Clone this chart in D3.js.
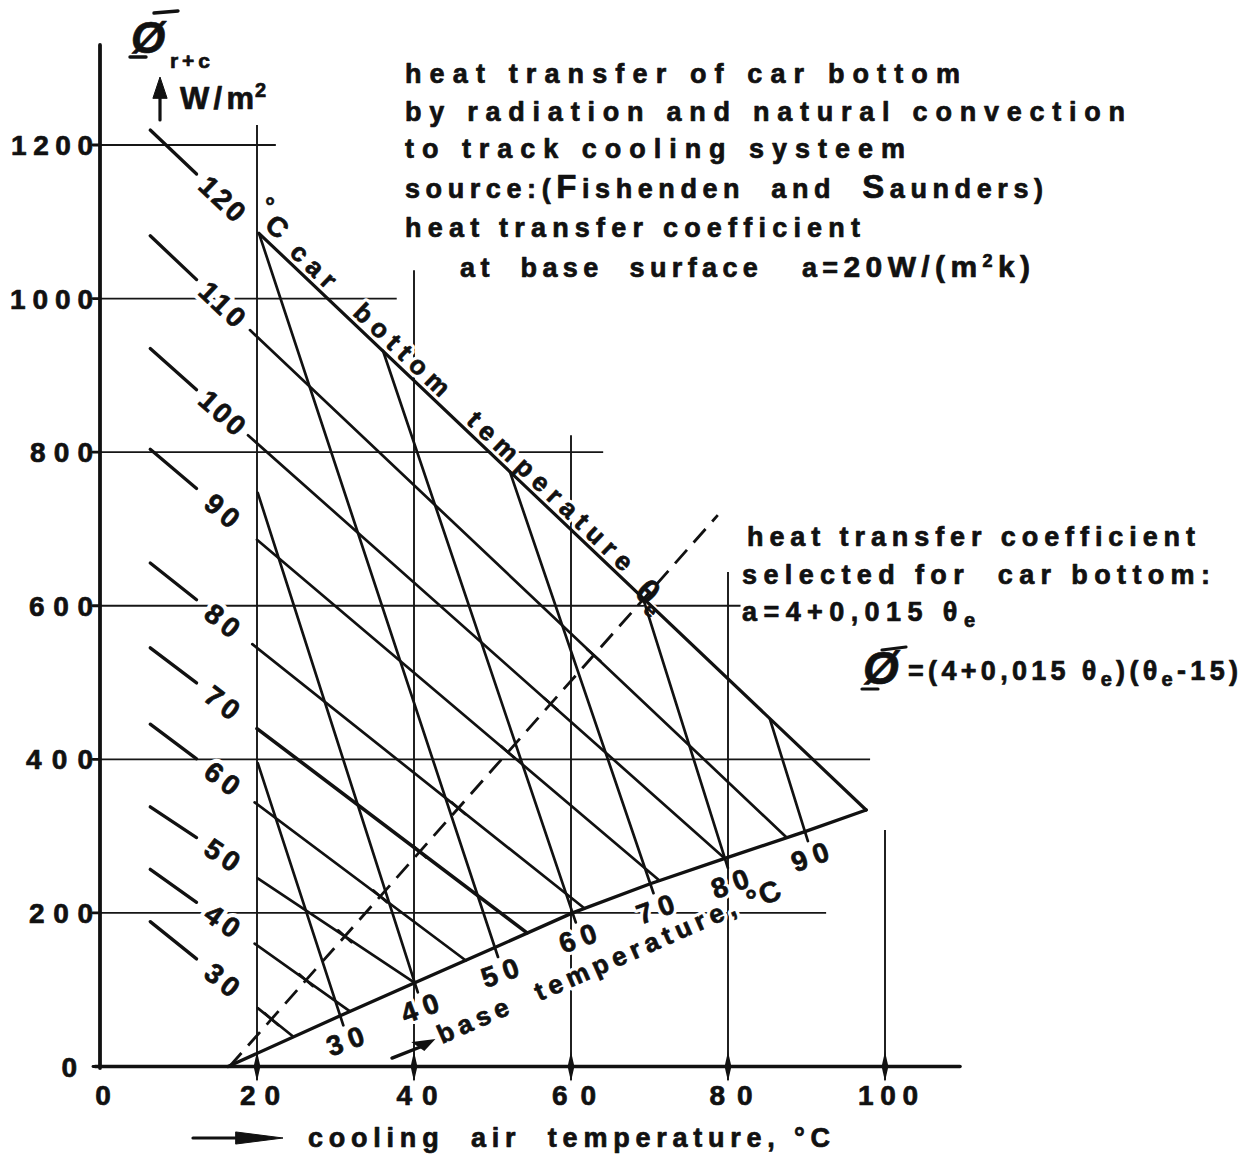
<!DOCTYPE html>
<html>
<head>
<meta charset="utf-8">
<script src="https://cdn.jsdelivr.net/npm/d3@7"></script>
<style>
  html, body { margin: 0; padding: 0; background: #fff; }
  svg { display: block; }
  text { font-family: "Liberation Sans", Arial, Helvetica, sans-serif; font-weight: 700; white-space: pre; }
</style>
</head>
<body>
<svg id="chart" width="1256" height="1163"></svg>
<script>
// ---------------- data ----------------
const xTicks = [0, 20, 40, 60, 80, 100];
const yTicks = [0, 200, 400, 600, 800, 1000, 1200];

// car-bottom temperature lines θe (°C): from the 20 °C air line down to the base-temperature curve
const carTemps     = [120, 110, 100, 90, 80, 70, 60, 50, 40, 30];
const carStartAir  = [20.25, 19.1, 18.85, 20.0, 19.4, 20.0, 19.7, 20.1, 19.7, 20.1];
const carStartFlux = [1085, 959, 822, 686, 550, 440, 344, 245, 160, 76];
const carEndAir    = [97.6, 87.5, 79.6, 71.3, 61.7, 54.4, 46.6, 40.1, 31.8, 24.6];
const carEndFlux   = [334, 298, 271, 242, 206, 174, 138, 109, 72, 39];

// base temperature lines θb (°C)
const baseTemps     = [30, 40, 50, 60, 70, 80, 90];
const baseStartAir  = [20.1, 20.1, 20.25, 36.05, 52.2, 69.2, 85.35];
const baseStartFlux = [395, 747, 1085, 932, 775, 609, 452];
const baseEndAir    = [30.6, 40.1, 50.3, 60.2, 70.1, 79.6, 89.8];
const baseEndFlux   = [66, 109, 155, 200, 238, 271, 306];

// base-temperature curve
const baseCurveAir  = [16.3, 30.6, 40.1, 50.3, 60.2, 70.1, 79.6, 89.8, 97.6];
const baseCurveFlux = [0, 66, 109, 155, 200, 238, 271, 306, 334];

// selected car-bottom heat-transfer coefficient (dashed)
const coefAir  = [16.5, 78.7];
const coefFlux = [0, 718];

// ---------------- scales ----------------
const svg = d3.select("#chart");
const x = d3.scaleLinear().domain([0, 100]).range([100, 885]);
const y = d3.scaleLinear().domain([0, 1200]).range([1066.5, 145]);
const line = d3.line().x(d => x(d[0])).y(d => y(d[1]));

const ink = "#111";
const gGrid  = svg.append("g").attr("fill", "none").attr("stroke", "#161616").attr("stroke-width", 1.9);
const gHalo  = svg.append("g");
const gLines = svg.append("g").attr("fill", "none").attr("stroke", ink).attr("stroke-linecap", "round");
const gText  = svg.append("g");

function addText(parts, o) {
  const layers = o.halo === 0 ? [gText] : [gHalo, gText];
  layers.forEach(layer => {
    const halo = layer === gHalo;
    const t = layer.append("text")
      .attr("x", o.x).attr("y", o.y)
      .attr("font-size", o.size || 27)
      .attr("text-anchor", o.anchor || "start");
    if (o.rotate) t.attr("transform", `rotate(${o.rotate},${o.x},${o.y})`);
    if (o.len) t.attr("textLength", o.len).attr("lengthAdjust", "spacing");
    if (o.italic) t.attr("font-style", "italic");
    if (o.baseline) t.attr("dominant-baseline", o.baseline);
    if (halo) t.attr("fill", "#fff").attr("stroke", "#fff").attr("stroke-width", o.halo || 7).attr("stroke-linejoin", "round");
    else t.attr("fill", ink).attr("stroke", ink).attr("stroke-width", 0.7).attr("stroke-linejoin", "round");
    (typeof parts === "string" ? [{ t: parts }] : parts).forEach(p => {
      const s = t.append("tspan").text(p.t);
      if (p.size) s.attr("font-size", p.size);
      if (p.dy) s.attr("dy", p.dy);
    });
  });
}

// ---------------- grid ----------------
const hGrid = [
  { v: 1200, from: 0, to: 22.4 },
  { v: 1000, from: 0, to: 37.8 },
  { v: 800,  from: 0, to: 64.1 },
  { v: 600,  from: 0, to: 81.6 },
  { v: 400,  from: 0, to: 98.1 },
  { v: 200,  from: 0, to: 92.5 }
];
const vGrid = [
  { v: 20,  from: -18, to: 1226 },
  { v: 40,  from: -18, to: 1037 },
  { v: 60,  from: -18, to: 822 },
  { v: 80,  from: -18, to: 644 },
  { v: 100, from: -18, to: 308 }
];
hGrid.forEach(g => gGrid.append("path").attr("d", line([[g.from, g.v], [g.to, g.v]])));
vGrid.forEach(g => gGrid.append("path").attr("d", line([[g.v, g.from], [g.v, g.to]])));

// axes
gLines.append("line").attr("x1", x(0)).attr("x2", x(0)).attr("y1", 45).attr("y2", y(0) + 1.5).attr("stroke-width", 3.8);
gLines.append("line").attr("x1", x(0) - 5).attr("x2", 960).attr("y1", y(0)).attr("y2", y(0)).attr("stroke-width", 3.6);
yTicks.forEach(v => gLines.append("line").attr("x1", x(0) - 7).attr("x2", x(0)).attr("y1", y(v)).attr("y2", y(v)).attr("stroke-width", 2.8));
xTicks.filter(v => v > 0).forEach(v => {
  const cx = x(v), cy = y(0);
  gLines.append("path").attr("d", `M${cx},${cy - 15}L${cx + 3.4},${cy}L${cx},${cy + 15}L${cx - 3.4},${cy}Z`)
    .attr("fill", ink).attr("stroke", "none");
});

// tick labels
const xLabLen = { 0: 18, 20: 40, 40: 41, 60: 44, 80: 43, 100: 60 };
xTicks.forEach(v => addText(String(v), { x: x(v) + 3, y: 1105, anchor: "middle", size: 28, len: xLabLen[v], halo: 0 }));
const yLabLen = { 0: 19, 200: 64, 400: 67, 600: 64, 800: 63, 1000: 83, 1200: 82 };
yTicks.forEach(v => addText(String(v), { x: v === 0 ? 77 : 93, y: y(v) + 10, anchor: "end", size: 28, len: yLabLen[v], halo: 0 }));

// ---------------- curves ----------------
// base-temperature curve
gLines.append("path").attr("d", line(baseCurveAir.map((a, i) => [a, baseCurveFlux[i]]))).attr("stroke-width", 3.4).attr("stroke-linejoin", "round");

// car-bottom temperature lines + their short index dashes and labels on the left
carTemps.forEach((t, i) => {
  const a0 = carStartAir[i], f0 = carStartFlux[i], a1 = carEndAir[i], f1 = carEndFlux[i];
  const fAt = a => f0 + (f1 - f0) * (a - a0) / (a1 - a0);
  gLines.append("path").attr("d", line([[a0, f0], [a1, f1]]))
    .attr("stroke-width", t === 120 ? 3.2 : (t === 70 ? 3.6 : 2.7));
  gLines.append("path").attr("d", line([[6.4, fAt(6.4)], [12.3, fAt(12.3)]])).attr("stroke-width", 3.3);
  const ang = Math.atan2(y(f1) - y(f0), x(a1) - x(a0)) * 180 / Math.PI;
  const la = 15.6, lx = x(la), ly = y(fAt(la));
  addText(String(t), { x: lx, y: ly, anchor: "middle", baseline: "central", size: 28, rotate: ang, len: t >= 100 ? 52 : 36, halo: 9 });
});

// base temperature lines, with a short tick past the curve and a label below
baseTemps.forEach((t, i) => {
  const p0 = [x(baseStartAir[i]), y(baseStartFlux[i])], p1 = [x(baseEndAir[i]), y(baseEndFlux[i])];
  const dx = p1[0] - p0[0], dy = p1[1] - p0[1], L = Math.hypot(dx, dy);
  gLines.append("path").attr("d", `M${p0[0]},${p0[1]}L${p1[0] + dx / L * 10},${p1[1] + dy / L * 10}`).attr("stroke-width", 2.7);
  addText(String(t), { x: p1[0] + 5, y: p1[1] + 25, anchor: "middle", baseline: "central", size: 28, rotate: -20, len: 38, halo: 7 });
});

// dashed coefficient line with cross ticks where it meets the θe lines
const c0 = [x(coefAir[0]), y(coefFlux[0])], c1 = [x(coefAir[1]), y(coefFlux[1])];
gLines.append("path").attr("d", line(coefAir.map((a, i) => [a, coefFlux[i]])))
  .attr("stroke-width", 2.8).attr("stroke-dasharray", "18,10").attr("stroke-linecap", "butt");
const cdx = c1[0] - c0[0], cdy = c1[1] - c0[1], cL = Math.hypot(cdx, cdy);
carTemps.filter(t => t < 120).forEach(t => {
  const i = carTemps.indexOf(t);
  const a = [x(carStartAir[i]), y(carStartFlux[i])], b = [x(carEndAir[i]), y(carEndFlux[i])];
  const ex = b[0] - a[0], ey = b[1] - a[1];
  const den = cdx * ey - cdy * ex;
  const s = ((a[0] - c0[0]) * ey - (a[1] - c0[1]) * ex) / den;
  const px = c0[0] + s * cdx, py = c0[1] + s * cdy;
  const nx = -cdy / cL * 9, ny = cdx / cL * 9;
  gLines.append("path").attr("d", `M${px - nx},${py - ny}L${px + nx},${py + ny}`).attr("stroke-width", 2.6);
});

// little pointer toward the base-temperature scale
gLines.append("path").attr("d", line([[37.2, 11], [41.2, 27]])).attr("stroke-width", 3.4);
gLines.append("path").attr("d", `M${x(40)},${y(31)}L${x(42.4)},${y(34)}L${x(41.3)},${y(22)}Z`).attr("fill", ink).attr("stroke-width", 2);

// ---------------- text ----------------
addText("heat transfer of car bottom", { x: 405, y: 83, len: 555 });
addText("by radiation and natural convection", { x: 405, y: 121, len: 720 });
addText("to track cooling systeem", { x: 405, y: 158, len: 500 });
addText([{ t: "source:(" }, { t: "F", size: 33 }, { t: "ishenden  and  " }, { t: "S", size: 33 }, { t: "aunders)" }], { x: 405, y: 198, len: 638 });
addText("heat transfer coefficient", { x: 405, y: 237, len: 455 });
addText([{ t: "at  base  surface   a=" }, { t: "20W/(m", size: 30 }, { t: "2", size: 18, dy: -10 }, { t: "k)", size: 30, dy: 10 }], { x: 460, y: 277, len: 570 });

addText("heat transfer coefficient", { x: 747, y: 546, len: 448 });
addText("selected for  car bottom:", { x: 742, y: 584, len: 468 });
addText([{ t: "a=4+0,015 θ" }, { t: "e", size: 20, dy: 6 }], { x: 742, y: 621, len: 233 });
addText("Ø", { x: 863, y: 684, size: 46, italic: true, halo: 0 });
gLines.append("line").attr("x1", 882).attr("x2", 906).attr("y1", 650).attr("y2", 647).attr("stroke-width", 3.2);
gLines.append("line").attr("x1", 862).attr("x2", 878).attr("y1", 689).attr("y2", 689).attr("stroke-width", 3.2);
addText([{ t: "=(4+0,015 θ" }, { t: "e", size: 20, dy: 6 }, { t: ")(θ", dy: -6 }, { t: "e", size: 20, dy: 6 }, { t: "-15)", dy: -6 }], { x: 908, y: 680, len: 330 });

// axis titles
addText("Ø", { x: 131, y: 53, size: 44, italic: true, halo: 0 });
gLines.append("line").attr("x1", 154).attr("x2", 178).attr("y1", 13).attr("y2", 11).attr("stroke-width", 3.4);
gLines.append("line").attr("x1", 130).attr("x2", 146).attr("y1", 57).attr("y2", 57).attr("stroke-width", 3.4);
addText("r+c", { x: 170, y: 68, size: 21, len: 40, halo: 0 });
gLines.append("line").attr("x1", 160).attr("x2", 160).attr("y1", 120).attr("y2", 92).attr("stroke-width", 3.2);
gLines.append("path").attr("d", "M153,98L160,77L167,98Z").attr("fill", ink).attr("stroke-width", 1);
addText("W/m", { x: 180, y: 109, size: 31, len: 74, halo: 0 });
addText("2", { x: 255, y: 97, size: 20, halo: 0 });

gLines.append("line").attr("x1", 193).attr("x2", 242).attr("y1", 1138).attr("y2", 1138).attr("stroke-width", 3.2);
gLines.append("path").attr("d", "M236,1132L283,1138L236,1144Z").attr("fill", ink).attr("stroke-width", 1);
addText("cooling  air  temperature, °C", { x: 308, y: 1147, len: 522, halo: 0 });

// labels along the curves
addText([{ t: "°", size: 24 }], { x: 270, y: 214, anchor: "middle", size: 24 });
addText("C", { x: 271, y: 234, anchor: "middle", size: 28, rotate: 40 });
addText("car  bottom  temperature", { x: 288.5, y: 254, size: 26, rotate: 43.6, len: 462 });
addText([{ t: "θ" }, { t: "e", size: 20, dy: 6 }], { x: 633, y: 594, size: 34, rotate: 43.6, halo: 5 });
addText("base  temperature,", { x: 442, y: 1044, size: 26, rotate: -23.7, len: 323 });
addText("°C", { x: 752, y: 911, size: 29, rotate: -23.7, len: 34 });
</script>
</body>
</html>
